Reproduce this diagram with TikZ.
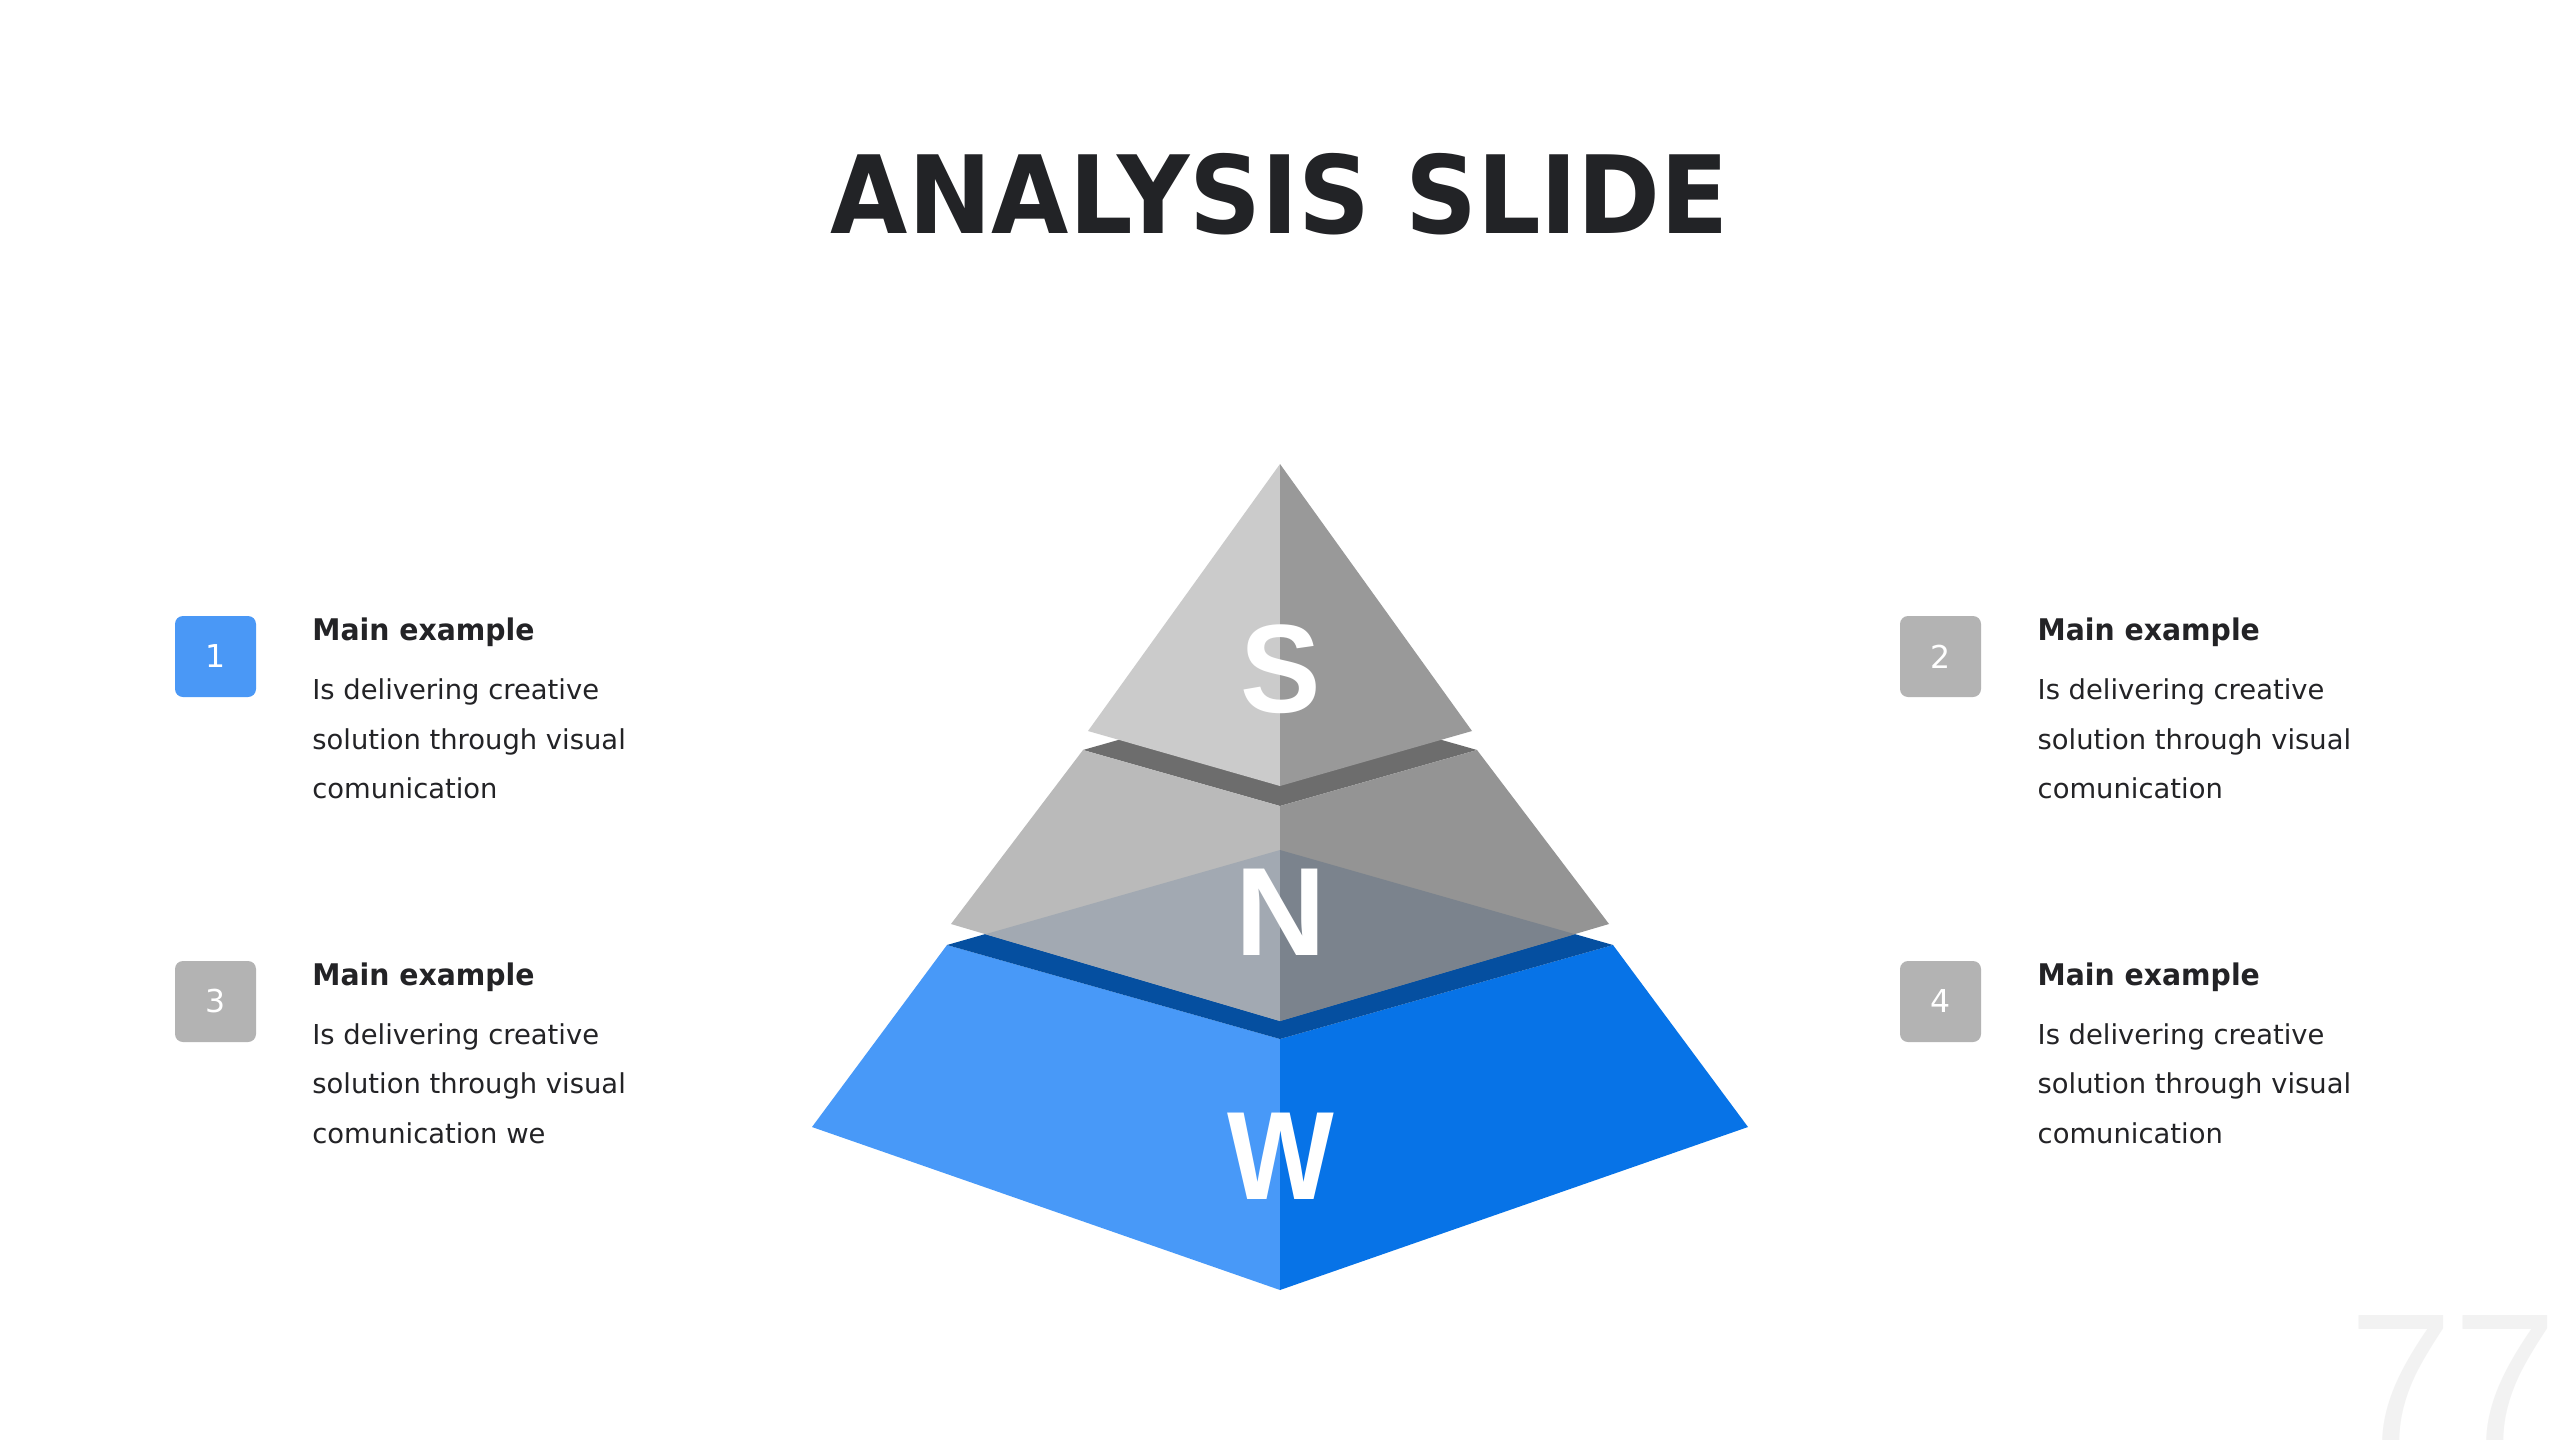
\documentclass[tikz,border=0pt]{standalone}
\usepackage{fontspec}
\usepackage{graphicx}
\setmainfont{DejaVu Sans}
\newfontfamily\pyrfont{Liberation Sans}
\usetikzlibrary{calc}
\definecolor{titlecol}{HTML}{222326}
\definecolor{txtcol}{HTML}{232326}
\definecolor{boxblue}{HTML}{4A98F6}
\definecolor{boxgray}{HTML}{B3B3B3}
\definecolor{wleft}{HTML}{4899F8}
\definecolor{wright}{HTML}{0773E7}
\definecolor{wtop}{HTML}{054FA0}
\definecolor{ntop}{HTML}{6D6D6D}
\definecolor{nleft}{HTML}{BABABA}
\definecolor{nright}{HTML}{949494}
\definecolor{oleft}{HTML}{A2A9B2}
\definecolor{oright}{HTML}{7B838D}
\definecolor{sleft}{HTML}{CBCBCB}
\definecolor{sright}{HTML}{999999}
\definecolor{wmark}{HTML}{F2F2F2}
\begin{document}
\begin{tikzpicture}[x=0.3pt,y=-0.3pt,
  numbox/.style={minimum width=24.3pt,minimum height=24.3pt,rounded corners=2.4pt,
    inner sep=0pt,text=white,font=\fontsize{9.45pt}{11pt}\selectfont},
  headtxt/.style={anchor=base west,inner sep=0pt,text=txtcol,
    font=\fontsize{8.94pt}{11pt}\selectfont\bfseries},
  bodytxt/.style={anchor=base west,inner sep=0pt,text=txtcol,
    font=\fontsize{8.22pt}{14.85pt}\selectfont},
  pyrletter/.style={anchor=base,inner sep=0pt,text=white,
    font=\pyrfont\fontsize{37.7pt}{40pt}\selectfont\bfseries}]
\useasboundingbox (0,0) rectangle (2560,1440);
\fill[white] (0,0) rectangle (2560,1440);

% title
\node[anchor=base,inner sep=0pt,text=titlecol,font=\fontsize{32.4pt}{36pt}\selectfont\bfseries]
  (title) at (1280,233.7) {\scalebox{0.925}[1]{ANALYSIS SLIDE}};

% pyramid coordinates
\coordinate (apex) at (1280,464);
\coordinate (Sbl) at (1088,731);
\coordinate (Sbr) at (1472,731);
\coordinate (Sbf) at (1280,786);
\coordinate (Ntl) at (1083,750);
\coordinate (Ntr) at (1477,750);
\coordinate (Ntb) at (1280,694);
\coordinate (Ntf) at (1280,806);
\coordinate (Nbl) at (951,924);
\coordinate (Nbr) at (1609,924);
\coordinate (Nbf) at (1280,1021);
\coordinate (Wtl) at (947,945);
\coordinate (Wtr) at (1613,945);
\coordinate (Wtb) at (1280,850);
\coordinate (Wtf) at (1280,1039);
\coordinate (Wbl) at (812,1127);
\coordinate (Wbr) at (1748,1127);
\coordinate (Wbf) at (1280,1290);
\coordinate (OL) at (intersection of Nbl--Nbf and Wtl--Wtb);
\coordinate (OR) at (intersection of Nbr--Nbf and Wtr--Wtb);

% W layer
\fill[wleft] (Wtl) -- (Wtf) -- (Wbf) -- (Wbl) -- cycle;
\fill[wright] (Wtf) -- (Wtr) -- (Wbr) -- (Wbf) -- cycle;
\fill[wtop] (Wtl) -- (Wtb) -- (Wtr) -- (Wtf) -- cycle;
% N layer
\fill[ntop] (Ntl) -- (Ntb) -- (Ntr) -- (Ntf) -- cycle;
\fill[nleft] (Ntl) -- (Ntf) -- (Nbf) -- (Nbl) -- cycle;
\fill[nright] (Ntf) -- (Ntr) -- (Nbr) -- (Nbf) -- cycle;
\fill[oleft] (OL) -- (Wtb) -- (Nbf) -- cycle;
\fill[oright] (Wtb) -- (OR) -- (Nbf) -- cycle;
% S layer
\fill[sleft] (apex) -- (Sbf) -- (Sbl) -- cycle;
\fill[sright] (apex) -- (Sbr) -- (Sbf) -- cycle;

% letters
\node[pyrletter] (lS) at (1281,712) {\scalebox{0.96}[1]{S}};
\node[pyrletter] (lN) at (1281,955) {N};
\node[pyrletter] (lW) at (1281,1199) {\scalebox{0.9}[1]{W}};

% items
\node[numbox,fill=boxblue] (b1) at (215.5,656.5) {1};
\node[numbox,fill=boxgray] (b2) at (1940.5,656.5) {2};
\node[numbox,fill=boxgray] (b3) at (215.5,1001.5) {3};
\node[numbox,fill=boxgray] (b4) at (1940.5,1001.5) {4};

\node[headtxt] (h1) at (311.7,640) {\scalebox{0.95}[1]{Main example}};
\node[headtxt] (h2) at (2037,640) {\scalebox{0.95}[1]{Main example}};
\node[headtxt] (h3) at (311.7,985) {\scalebox{0.95}[1]{Main example}};
\node[headtxt] (h4) at (2037,985) {\scalebox{0.95}[1]{Main example}};

\node[bodytxt] (t1) at (311.7,699.5) {\begin{tabular}[t]{@{}l@{}}Is delivering creative\\solution through visual\\comunication\end{tabular}};
\node[bodytxt] (t2) at (2037,699.5) {\begin{tabular}[t]{@{}l@{}}Is delivering creative\\solution through visual\\comunication\end{tabular}};
\node[bodytxt] (t3) at (311.7,1044) {\begin{tabular}[t]{@{}l@{}}Is delivering creative\\solution through visual\\comunication we\end{tabular}};
\node[bodytxt] (t4) at (2037,1044) {\begin{tabular}[t]{@{}l@{}}Is delivering creative\\solution through visual\\comunication\end{tabular}};

% watermark page number (cut off by the page edge, as in the slide)
\node[anchor=base west,inner sep=0pt,text=wmark,font=\pyrfont\fontsize{55.8pt}{60pt}\selectfont]
  (pnum) at (2349,1443) {77};
\end{tikzpicture}
\end{document}
